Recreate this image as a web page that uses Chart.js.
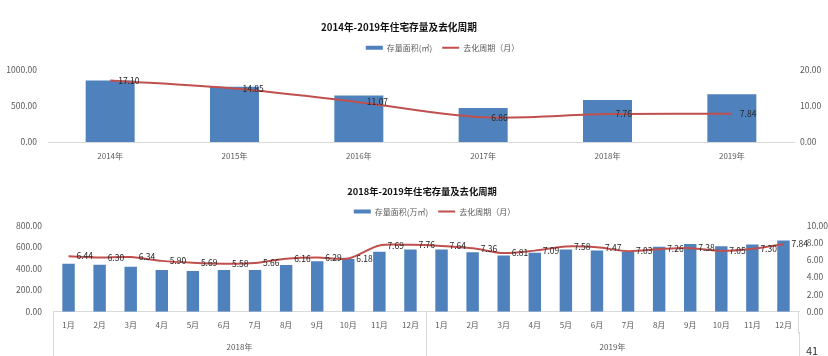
<!DOCTYPE html>
<html>
<head>
<meta charset="utf-8">
<script src="https://cdn.jsdelivr.net/npm/chart.js@4.4.1/dist/chart.umd.min.js"></script>
<style>
html,body{margin:0;padding:0;background:#fff;width:828px;height:356px;overflow:hidden;}
body{position:relative;}
canvas{position:absolute;left:0;}
#c1{top:0;}
#c2{top:170px;}
#page{position:absolute;left:806px;top:344px;font-size:11px;line-height:12px;font-family:'Noto Sans CJK SC','Noto Sans',sans-serif;color:#333;}
</style>
</head>
<body>
<canvas id="c1" width="828" height="170"></canvas>
<canvas id="c2" width="828" height="200"></canvas>
<div id="page">41</div>
<script>
// ---- data: yearly chart ----
const yearLabels = ['2014年', '2015年', '2016年', '2017年', '2018年', '2019年'];
const yearArea = [855, 767, 646, 474, 582, 665];
const yearCycle = [17.10, 14.85, 11.07, 6.86, 7.76, 7.84];
const yearAreaTicks = [0, 500, 1000];
const yearCycleTicks = [0, 10, 20];

// ---- data: monthly chart ----
const monthLabels = ['1月','2月','3月','4月','5月','6月','7月','8月','9月','10月','11月','12月',
                     '1月','2月','3月','4月','5月','6月','7月','8月','9月','10月','11月','12月'];
const monthGroups = ['2018年', '2019年'];
const monthArea = [446, 437, 418, 388, 378, 388, 388, 434, 468, 489, 557, 578,
                   578, 551, 523, 548, 578, 569, 560, 603, 628, 609, 625, 662];
const monthCycle = [6.44, 6.30, 6.34, 5.90, 5.69, 5.58, 5.66, 6.16, 6.29, 6.18, 7.69, 7.76,
                    7.64, 7.36, 6.81, 7.09, 7.58, 7.47, 7.03, 7.26, 7.38, 7.05, 7.30, 7.84];
const monthAreaTicks = [0, 200, 400, 600, 800];
const monthCycleTicks = [0, 2, 4, 6, 8, 10];

const title1 = '2014年-2019年住宅存量及去化周期';
const title2 = '2018年-2019年住宅存量及去化周期';
const seriesArea1 = '存量面积(㎡)';
const seriesArea2 = '存量面积(万㎡)';
const seriesCycle = '去化周期（月）';

// ---- style ----
const FONT = "'Noto Sans CJK SC','Noto Sans',sans-serif";
const BLUE = '#4f81bd';
const RED = '#c0504d';
const TICK = '#595959';
const AXIS = '#d9d9d9';

const lineLabels = {
  id: 'lineLabels',
  afterDatasetsDraw(chart, args, opts) {
    const ctx = chart.ctx;
    chart.data.datasets.forEach((ds, i) => {
      if (ds.type !== 'line') return;
      const meta = chart.getDatasetMeta(i);
      ctx.save();
      ctx.font = opts.size + 'px ' + FONT;
      ctx.fillStyle = '#262626';
      ctx.textAlign = 'left';
      ctx.textBaseline = 'middle';
      meta.data.forEach((el, j) => {
        ctx.fillText(ds.data[j].toFixed(2), el.x + opts.dx, el.y);
      });
      ctx.restore();
    });
  }
};

const shiftBlocks = {
  id: 'shiftBlocks',
  afterLayout(chart, args, opts) {
    const t = chart.titleBlock, l = chart.legend;
    if (t) { t.left += opts.title; t.right += opts.title; }
    if (l) { l.left += opts.legend; l.right += opts.legend; }
  }
};

function setTicks(arr) {
  return (a) => { a.ticks = arr.map(v => ({ value: v })); };
}

function yAxis(pos, arr, width, pad) {
  return {
    type: 'linear', position: pos, min: arr[0], max: arr[arr.length - 1],
    grid: { display: false, drawTicks: false },
    border: { display: false },
    ticks: { color: TICK, font: { family: FONT, size: 8.5 }, padding: pad, callback: v => Number(v).toFixed(2) },
    afterBuildTicks: setTicks(arr),
    afterFit: (a) => { a.width = width; }
  };
}

function legendOpts() {
  return {
    display: true, position: 'top',
    labels: { usePointStyle: true, pointStyleWidth: 17, boxHeight: 4, padding: 10, color: TICK,
              font: { family: FONT, size: 8 }, sort: (a, b) => a.datasetIndex - b.datasetIndex }
  };
}

// ---- chart 1 ----
new Chart(document.getElementById('c1'), {
  data: {
    labels: yearLabels,
    datasets: [
      { type: 'bar', label: seriesArea1, data: yearArea, backgroundColor: BLUE, borderWidth: 0,
        xAxisID: 'x', yAxisID: 'y', order: 2, barPercentage: 0.394, categoryPercentage: 1, pointStyle: 'rect' },
      { type: 'line', label: seriesCycle, data: yearCycle, borderColor: RED, backgroundColor: RED, borderWidth: 2,
        pointRadius: 0, tension: 0.3, xAxisID: 'x', yAxisID: 'y1', order: 1, pointStyle: 'line' }
    ]
  },
  options: {
    responsive: false, animation: false, events: [],
    layout: { padding: 0 },
    plugins: {
      title: { display: true, text: title1, color: '#111', font: { family: FONT, size: 9.7, weight: 'bold' }, padding: { top: 22, bottom: 0 } },
      legend: legendOpts(),
      tooltip: { enabled: false },
      lineLabels: { dx: 8, size: 8.5 },
      shiftBlocks: { title: -15, legend: 28.5 }
    },
    scales: {
      x: { type: 'category', position: 'bottom', offset: true,
           grid: { display: false, drawTicks: false },
           border: { display: true, color: AXIS },
           ticks: { color: TICK, font: { family: FONT, size: 8 }, padding: 9, maxRotation: 0, autoSkip: false },
           afterFit: (a) => { a.height = 28; } },
      sp: { type: 'category', axis: 'x', position: 'top', display: true,
            grid: { display: false, drawTicks: false }, border: { display: false }, ticks: { display: false },
            afterFit: (a) => { a.height = 8.4; } },
      y: yAxis('left', yearAreaTicks, 48, 11),
      y1: yAxis('right', yearCycleTicks, 34, 6)
    }
  },
  plugins: [lineLabels, shiftBlocks]
});

// ---- chart 2 ----
new Chart(document.getElementById('c2'), {
  data: {
    labels: monthLabels,
    datasets: [
      { type: 'bar', label: seriesArea2, data: monthArea, backgroundColor: BLUE, borderWidth: 0,
        xAxisID: 'x', yAxisID: 'y', order: 2, barPercentage: 0.4, categoryPercentage: 1, pointStyle: 'rect' },
      { type: 'line', label: seriesCycle, data: monthCycle, borderColor: RED, backgroundColor: RED, borderWidth: 2,
        pointRadius: 0, tension: 0.3, xAxisID: 'x', yAxisID: 'y1', order: 1, pointStyle: 'line' }
    ]
  },
  options: {
    responsive: false, animation: false, events: [],
    layout: { padding: 0 },
    plugins: {
      title: { display: true, text: title2, color: '#111', font: { family: FONT, size: 9.3, weight: 'bold' }, padding: { top: 15.4, bottom: 1 } },
      legend: legendOpts(),
      tooltip: { enabled: false },
      lineLabels: { dx: 8, size: 8.5 },
      shiftBlocks: { title: 8, legend: 20.5 }
    },
    scales: {
      x: { type: 'category', position: 'bottom', weight: 0, offset: true,
           grid: { display: true, offset: true, drawOnChartArea: false, drawTicks: true, tickLength: 22, lineWidth: 1,
                   color: (c) => (c.type !== 'tick' || c.index % 12 === 0) ? AXIS : 'rgba(0,0,0,0)' },
           border: { display: true, color: AXIS },
           ticks: { color: TICK, font: { family: FONT, size: 8 }, padding: -13.5, maxRotation: 0, autoSkip: false },
           afterFit: (a) => { a.height = 20; } },
      x2: { type: 'category', axis: 'x', position: 'bottom', weight: 1, labels: monthGroups, offset: true,
            grid: { display: true, offset: true, drawOnChartArea: false, drawTicks: true, tickLength: 40, color: AXIS, lineWidth: 1 },
            border: { display: false },
            ticks: { color: TICK, font: { family: FONT, size: 8 }, padding: -29.8, maxRotation: 0, autoSkip: false },
            afterFit: (a) => { a.height = 38.3; } },
      y: yAxis('left', monthAreaTicks, 53, 11),
      y1: yAxis('right', monthCycleTicks, 29, 7.7)
    }
  },
  plugins: [lineLabels, shiftBlocks]
});
</script>
</body>
</html>
